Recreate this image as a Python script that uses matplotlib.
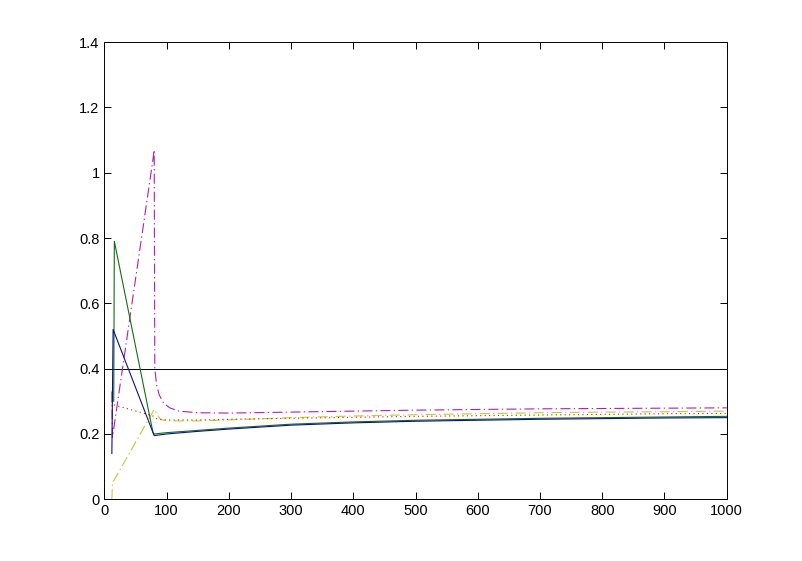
import matplotlib

matplotlib.use("Agg")
import matplotlib.pyplot as plt

plt.rcParams["font.family"] = ["Liberation Sans", "DejaVu Sans"]

# magenta dash-dot
mag_x = [12, 13, 78, 80, 81, 84, 88, 95, 105, 120, 150, 200, 300, 400, 500, 600, 700, 800, 900, 1000]
mag_y = [0.33, 0.19, 1.04, 1.07, 0.40, 0.35, 0.32, 0.295, 0.28, 0.27, 0.265, 0.264, 0.267, 0.270, 0.273, 0.275, 0.277, 0.278, 0.279, 0.280]

# blue solid
blue_x = [12, 14, 80, 100, 150, 200, 300, 400, 500, 600, 700, 800, 900, 1000]
blue_y = [0.14, 0.52, 0.195, 0.200, 0.208, 0.215, 0.227, 0.234, 0.239, 0.242, 0.245, 0.247, 0.249, 0.250]

# green solid
green_x = [15, 16, 78, 80, 100, 150, 200, 300, 400, 500, 600, 700, 800, 900, 1000]
green_y = [0.30, 0.79, 0.205, 0.200, 0.204, 0.211, 0.218, 0.230, 0.237, 0.242, 0.245, 0.248, 0.250, 0.252, 0.254]

# red dotted
red_x = [12, 14, 78, 85, 100, 150, 200, 300, 400, 500, 600, 700, 800, 900, 1000]
red_y = [0.30, 0.29, 0.255, 0.245, 0.243, 0.243, 0.245, 0.248, 0.251, 0.254, 0.256, 0.258, 0.260, 0.262, 0.263]

# yellow dash-dot
yel_x = [12, 13, 80, 90, 100, 150, 200, 300, 400, 500, 600, 700, 800, 900, 1000]
yel_y = [0.00, 0.05, 0.275, 0.245, 0.240, 0.240, 0.243, 0.250, 0.255, 0.259, 0.262, 0.265, 0.267, 0.268, 0.270]

ref_level = 0.4

fig = plt.figure(figsize=(8.03, 5.61), dpi=100)
fig.patch.set_facecolor("white")
ax = fig.add_axes([0.13, 0.11, 0.775, 0.815])

lw = 0.8
dashdot = (0, (9, 3, 1.2, 3))
ax.axhline(ref_level, color="black", linewidth=0.7)
ax.plot(yel_x, yel_y, color="#c8c832", linestyle=dashdot, linewidth=lw)
ax.plot(red_x, red_y, color="#e01010", linestyle=(0, (1, 3)), linewidth=lw)
ax.plot(mag_x, mag_y, color="#b020b0", linestyle=dashdot, linewidth=lw)
ax.plot(green_x, green_y, color="#107010", linestyle="-", linewidth=lw)
ax.plot(blue_x, blue_y, color="#10108c", linestyle="-", linewidth=lw)

ax.set_xlim(0, 1000)
ax.set_ylim(0, 1.4)
ax.set_xticks(range(0, 1001, 100))
ax.set_yticks([0, 0.2, 0.4, 0.6, 0.8, 1.0, 1.2, 1.4])
ax.set_yticklabels(["0", "0.2", "0.4", "0.6", "0.8", "1", "1.2", "1.4"])
ax.tick_params(direction="in", top=True, right=True, length=5, width=0.7,
               labelsize=10.5, colors="black")
for s in ax.spines.values():
    s.set_linewidth(0.7)

fig.savefig("out.png", dpi=100, facecolor="white")
